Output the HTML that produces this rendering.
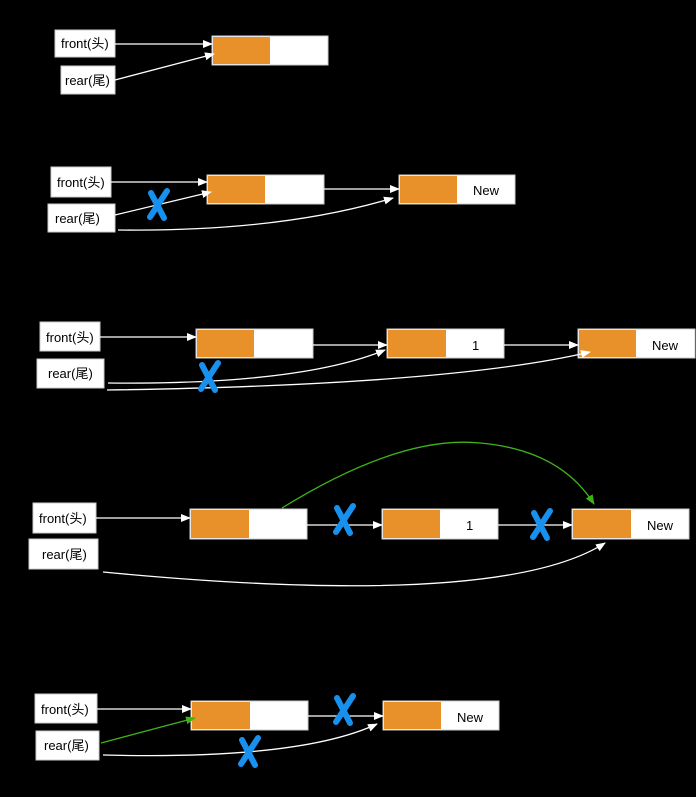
<!DOCTYPE html>
<html><head><meta charset="utf-8"><style>
html,body{margin:0;padding:0;background:#000;}
svg{display:block}
text{font-family:"Liberation Sans","Noto Sans CJK SC",sans-serif;font-size:13px;fill:#000}
</style></head><body>
<svg width="696" height="797" viewBox="0 0 696 797" xmlns="http://www.w3.org/2000/svg">
<defs>
<marker id="aw" markerWidth="10" markerHeight="10" refX="9" refY="5" orient="auto" markerUnits="userSpaceOnUse"><path d="M0,1 L10,5 L0,9 z" fill="#fff"/></marker>
<marker id="ag" markerWidth="10" markerHeight="10" refX="9" refY="5" orient="auto" markerUnits="userSpaceOnUse"><path d="M0,1 L10,5 L0,9 z" fill="#3fb21a"/></marker>
<g id="x"><path d="M-7,-12 L6,13" stroke="#1890ee" stroke-width="6" stroke-linecap="round"/><path d="M9,-14 L-8,12" stroke="#1890ee" stroke-width="6" stroke-linecap="round"/></g>
</defs>
<g fill="#fff" stroke="#ccc" stroke-width="1">
<!-- labels -->
<rect x="55" y="30" width="60" height="27"/><rect x="61" y="66" width="54" height="28"/>
<rect x="51" y="167" width="60" height="30"/><rect x="48" y="204" width="67" height="28"/>
<rect x="40" y="322" width="60" height="29"/><rect x="37" y="359" width="67" height="29"/>
<rect x="33" y="503" width="63" height="30"/><rect x="29" y="539" width="69" height="30"/>
<rect x="35" y="694" width="62" height="29"/><rect x="36" y="731" width="63" height="29"/>
<!-- nodes -->
<rect x="212" y="36" width="116" height="29"/>
<rect x="207" y="175" width="117" height="29"/><rect x="399" y="175" width="116" height="29"/>
<rect x="196" y="329" width="117" height="29"/><rect x="387" y="329" width="117" height="29"/><rect x="578" y="329" width="117" height="29"/>
<rect x="190" y="509" width="117" height="30"/><rect x="382" y="509" width="116" height="30"/><rect x="572" y="509" width="117" height="30"/>
<rect x="191" y="701" width="117" height="29"/><rect x="383" y="701" width="116" height="29"/>
</g>
<g fill="#e8902a">
<rect x="213" y="37" width="57" height="27"/>
<rect x="208" y="176" width="57" height="27"/><rect x="400" y="176" width="57" height="27"/>
<rect x="197" y="330" width="57" height="27"/><rect x="388" y="330" width="58" height="27"/><rect x="579" y="330" width="57" height="27"/>
<rect x="191" y="510" width="58" height="28"/><rect x="383" y="510" width="57" height="28"/><rect x="573" y="510" width="58" height="28"/>
<rect x="192" y="702" width="58" height="27"/><rect x="384" y="702" width="57" height="27"/>
</g>
<text x="61" y="48">front(头)</text><text x="65" y="85">rear(尾)</text>
<text x="57" y="187">front(头)</text><text x="55" y="223">rear(尾)</text>
<text x="46" y="342">front(头)</text><text x="48" y="378">rear(尾)</text>
<text x="39" y="523">front(头)</text><text x="42" y="559">rear(尾)</text>
<text x="41" y="714">front(头)</text><text x="44" y="750">rear(尾)</text>
<text x="473" y="195">New</text>
<text x="472" y="350">1</text><text x="652" y="350">New</text>
<text x="466" y="530">1</text><text x="647" y="530">New</text>
<text x="457" y="722">New</text>
<g stroke="#fff" stroke-width="1.3" fill="none" marker-end="url(#aw)">
<path d="M115,44 L212,44"/><path d="M115,80 L214,54"/>
<path d="M111,182 L207,182"/><path d="M115,215 L211,192"/><path d="M324,189 L399,189"/>
<path d="M118,230 Q280,232 393,198"/>
<path d="M100,337 L196,337"/><path d="M313,345 L387,345"/><path d="M504,345 L578,345"/>
<path d="M108,383 Q300,385 385,350"/><path d="M107,390 Q450,385 590,352"/>
<path d="M96,518 L190,518"/><path d="M307,525 L382,525"/><path d="M498,525 L572,525"/>
<path d="M103,572 Q500,610 605,543"/>
<path d="M97,709 L191,709"/><path d="M308,716 L383,716"/>
<path d="M103,755 Q300,760 377,724"/>
</g>
<g stroke="#3fb21a" stroke-width="1.3" fill="none" marker-end="url(#ag)">
<path d="M282,508 Q400,435 480,443 Q560,450 594,504"/>
<path d="M101,743 L195,718"/>
</g>
<use href="#x" x="158" y="205"/>
<use href="#x" x="209" y="377"/>
<use href="#x" x="344" y="520"/><use href="#x" x="541" y="525"/>
<use href="#x" x="344" y="710"/><use href="#x" x="249" y="752"/>
</svg>
</body></html>
